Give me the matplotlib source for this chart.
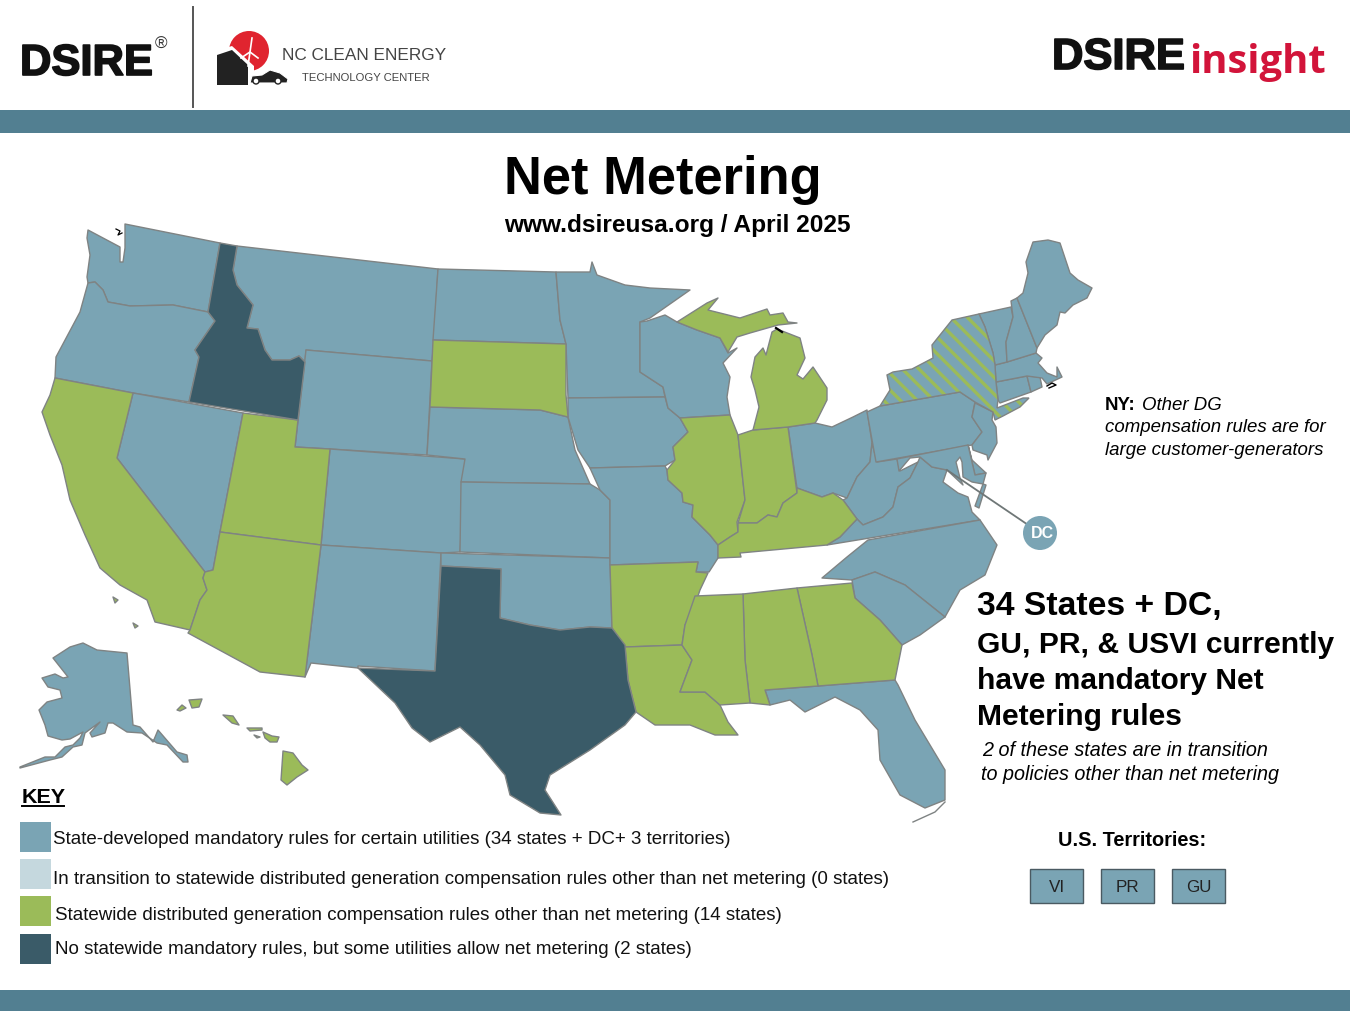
import matplotlib
matplotlib.use("Agg")
import matplotlib.pyplot as plt
import matplotlib.patheffects as pe
from matplotlib.patches import Polygon, Circle, Rectangle

plt.rcParams['font.family'] = ['Liberation Sans', 'DejaVu Sans']
plt.rcParams['hatch.linewidth'] = 2.4

# colours
BLUE = '#7AA4B4'
LIGHT = '#C5D8DE'
GREEN = '#9BBB59'
DARK = '#3A5B68'
BAR = '#527F91'
EDGE = '#7F8383'

# state outlines (pixel positions)
WA = [(88,230),(120,247),(120,262),(123,262),(125,248),(125,224),(220,243),(208,312),(173,305),(130,306),(108,302),(103,290),(95,282),(88,283),(87,277),(90,255),(87,238)]
OR = [(88,283),(95,282),(103,290),(108,302),(130,306),(173,305),(208,312),(215,321),(195,350),(199,357),(189,402),(133,393),(55,378),(56,357),(80,312)]
CA = [(55,378),(133,393),(117,458),(205,572),(203,578),(207,590),(200,600),(190,630),(155,622),(147,600),(120,585),(100,568),(85,535),(70,500),(62,465),(50,435),(42,412),(50,395)]
NV = [(133,393),(243,413),(220,532),(213,570),(205,572),(117,458)]
ID = [(220,243),(237,246),(233,270),(237,285),(253,305),(247,328),(258,329),(265,350),(272,360),(290,360),(299,356),(305,362),(298,420),(189,402),(199,357),(195,350),(215,321),(208,312)]
MT = [(237,246),(438,269),(434,340),(432,361),(306,350),(305,362),(299,356),(290,360),(272,360),(265,350),(258,329),(247,328),(253,305),(237,285),(233,270)]
WY = [(306,350),(432,361),(427,455),(330,449),(295,447)]
UT = [(243,413),(298,420),(295,447),(330,449),(321,545),(220,532)]
AZ = [(220,532),(321,545),(305,677),(260,672),(188,633),(190,630),(200,600),(207,590),(203,578),(205,572),(213,570)]
CO = [(330,449),(465,459),(460,552),(441,553),(321,545)]
NM = [(321,545),(441,553),(435,671),(358,666),(358,668),(311,663),(305,677)]
ND = [(438,269),(556,272),(560,320),(566,344),(433,340)]
SD = [(433,340),(566,344),(566,395),(568,417),(540,410),(430,407)]
NE = [(430,407),(540,410),(568,417),(575,450),(590,484),(461,482),(465,459),(427,455)]
KS = [(461,482),(590,484),(600,490),(610,500),(610,558),(460,552)]
OK = [(441,553),(610,558),(612,628),(590,627),(560,630),(530,625),(500,618),(501,569),(441,566)]
TX = [(441,566),(501,569),(500,618),(530,625),(560,630),(590,627),(612,628),(625,645),(628,680),(636,712),(625,725),(590,750),(550,775),(545,790),(561,815),(540,813),(510,795),(505,775),(480,745),(460,727),(430,742),(412,728),(395,703),(358,668),(435,671)]
MN = [(556,272),(590,272),(592,262),(597,275),(625,285),(650,288),(690,290),(650,318),(640,322),(640,372),(663,387),(665,397),(568,398),(566,344),(560,320)]
IA = [(568,398),(665,397),(668,408),(680,418),(688,432),(673,447),(675,460),(665,466),(590,468),(578,450),(568,417)]
MO = [(590,468),(665,466),(667,470),(668,480),(682,493),(683,502),(693,505),(692,517),(710,535),(718,545),(718,558),(709,572),(696,572),(698,562),(610,565),(610,500),(600,490)]
AR = [(610,565),(698,562),(696,572),(708,573),(700,590),(695,605),(685,625),(682,645),(625,647),(612,628)]
LA = [(625,647),(682,645),(692,660),(680,692),(705,692),(720,705),(728,722),(738,735),(715,735),(690,725),(655,725),(636,712),(628,680)]
WI = [(647,321),(665,315),(677,322),(697,330),(720,338),(728,353),(737,348),(723,363),(730,377),(727,397),(730,415),(680,418),(668,408),(663,387),(640,372),(640,322)]
IL = [(680,418),(730,415),(738,435),(745,500),(737,522),(738,532),(730,537),(718,545),(710,535),(692,517),(693,505),(683,502),(682,493),(668,480),(667,470),(675,460),(673,447),(688,432)]
IN = [(738,435),(753,430),(788,427),(797,493),(783,503),(777,517),(768,515),(757,523),(738,523),(745,500)]
MI_LOWER = [(753,430),(759,407),(755,390),(751,377),(755,357),(763,348),(766,355),(772,332),(777,329),(800,338),(805,358),(797,375),(803,379),(813,367),(827,388),(827,400),(817,420),(815,423),(788,427)]
MI_UPPER = [(677,322),(707,303),(718,298),(708,310),(740,318),(767,309),(770,315),(783,313),(788,322),(797,323),(778,325),(750,333),(737,337),(728,352),(720,338),(697,330)]
OH = [(788,427),(815,423),(832,427),(853,417),(867,410),(872,443),(870,462),(857,477),(847,498),(833,493),(822,497),(797,488)]
KY = [(797,488),(822,497),(833,493),(843,500),(857,519),(840,537),(827,545),(740,553),(741,557),(718,558),(718,545),(730,537),(738,532),(738,523),(757,523),(768,515),(777,517),(783,503),(797,493)]
WV = [(872,443),(877,462),(897,459),(900,471),(918,462),(910,478),(898,487),(893,507),(883,517),(863,525),(857,519),(843,500),(847,498),(857,477),(870,462)]
VA = [(827,545),(840,537),(857,519),(863,525),(883,517),(893,507),(898,487),(910,478),(918,462),(920,457),(932,467),(947,470),(943,482),(958,493),(968,497),(972,512),(980,520)]
VA_SHORE = [(983,484),(986,485),(979,508),(975,506)]
NC = [(868,540),(980,520),(997,545),(985,575),(960,590),(945,617),(905,585),(875,572),(852,580),(822,578),(847,557)]
SC = [(852,580),(875,572),(905,585),(945,617),(920,635),(902,645),(880,620),(855,598)]
GA = [(797,588),(852,583),(855,598),(880,620),(902,645),(895,680),(818,686),(812,655)]
AL = [(743,594),(797,588),(812,655),(818,686),(765,690),(770,705),(750,703),(745,660)]
MS = [(695,596),(743,594),(745,660),(750,703),(720,705),(705,692),(680,692),(692,660),(682,645),(685,625)]
FL = [(765,690),(818,686),(895,680),(898,685),(915,720),(945,770),(945,800),(925,808),(900,795),(880,760),(878,730),(860,710),(835,697),(805,712),(790,700),(770,705)]
PA = [(867,412),(880,406),(960,392),(975,402),(972,417),(982,432),(972,445),(876,462)]
NY = [(952,320),(979,314),(985,327),(993,353),(995,365),(996,382),(998,400),(997,408),(1023,398),(1029,398),(1020,407),(1003,416),(995,420),(993,412),(975,402),(960,392),(880,406),(890,390),(887,375),(893,372),(912,369),(933,358),(932,345)]
NJ = [(975,403),(993,412),(992,420),(996,427),(997,443),(988,460),(987,455),(973,450),(972,445),(982,432),(972,417)]
DE = [(968,445),(972,460),(986,473),(975,475)]
MD = [(897,459),(968,445),(975,475),(986,473),(983,484),(972,482),(963,477),(962,462),(960,457),(956,462),(960,478),(963,485),(947,470),(932,467),(920,457),(910,458),(899,471)]
CT = [(996,382),(1027,376),(1031,392),(1000,403),(998,400)]
RI = [(1027,376),(1040,377),(1042,387),(1031,392)]
MA = [(995,365),(1007,362),(1036,353),(1042,358),(1038,363),(1047,373),(1057,377),(1057,367),(1062,377),(1047,384),(1042,378),(1027,376),(996,382)]
VT = [(979,314),(1011,307),(1013,317),(1006,342),(1007,362),(995,365),(993,353),(985,327)]
NH = [(1011,301),(1017,298),(1037,348),(1036,353),(1007,362),(1006,342),(1013,317)]
ME = [(1033,242),(1048,240),(1060,243),(1070,273),(1078,280),(1092,288),(1087,298),(1073,305),(1065,313),(1060,312),(1057,325),(1045,335),(1037,348),(1017,298),(1023,293),(1028,273),(1026,262)]
AK = [(20,767),(45,757),(55,757),(65,747),(73,745),(80,738),(83,732),(70,739),(62,740),(48,736),(45,725),(39,710),(47,702),(62,698),(60,690),(48,687),(42,678),(55,674),(63,678),(68,677),(53,658),(70,647),(83,643),(97,650),(127,653),(133,725),(140,727),(153,742),(158,730),(177,752),(187,755),(188,762),(183,762),(167,745),(157,743),(142,733),(127,732),(113,723),(108,723),(105,733),(92,737),(90,733),(100,722),(85,733),(82,745),(73,747),(62,757),(50,760),(20,768)]
HI_BIG = [(283,751),(293,753),(302,765),(308,770),(297,777),(287,785),(281,780)]
HI_MAUI = [(263,732),(272,736),(279,737),(277,742),(270,742),(265,738)]
HI_LANAI = [(254,735),(260,737),(257,738)]
HI_MOLOKAI = [(247,728),(262,728),(262,730),(250,731)]
HI_OAHU = [(223,715),(233,716),(239,725),(232,723)]
HI_KAUAI = [(189,700),(202,699),(199,707),(192,708)]
HI_NIIHAU = [(177,710),(182,705),(186,708),(180,711)]
CA_ISLE_1 = [(113,597),(118,600),(115,603)]
CA_ISLE_2 = [(133,623),(138,626),(135,628)]

# policy groups (TN has no rule on the map and stays white)
RULES_STATES = [WA, OR, NV, MT, WY, CO, NM, ND, NE, KS, OK, MN, IA, MO, WI, OH, WV, VA, VA_SHORE, NC, SC, FL,
                PA, NJ, DE, MD, CT, RI, MA, VT, NH, ME, AK]
OTHER_COMP_STATES = [CA, CA_ISLE_1, CA_ISLE_2, UT, AZ, SD, AR, LA, IL, IN, MI_LOWER, MI_UPPER, KY, GA, AL, MS,
                     HI_BIG, HI_MAUI, HI_LANAI, HI_MOLOKAI, HI_OAHU, HI_KAUAI, HI_NIIHAU]
NO_RULE_STATES = [ID, TX]

LEGEND_LABELS = [
    "State-developed mandatory rules for certain utilities (34 states + DC+ 3 territories)",
    "In transition to statewide distributed generation compensation rules other than net metering (0 states)",
    "Statewide distributed generation compensation rules other than net metering (14 states)",
    "No statewide mandatory rules, but some utilities allow net metering (2 states)",
]
LEGEND_COLORS = [BLUE, LIGHT, GREEN, DARK]
TERRITORIES = ["VI", "PR", "GU"]
HEADLINE = ["34 States + DC,", "GU, PR, & USVI currently", "have mandatory Net", "Metering rules"]
TRANSITION_NOTE = ["2 of these states are in transition", "to policies other than net metering"]
NY_NOTE = ["compensation rules are for", "large customer-generators"]

# ----------------------------------------------------------------------------


def px(size):
    # font size given in pixels of the 100 dpi output
    return size * 0.72


def draw_dsire(ax, x, y):
    ax.text(x, y, "DSIRE", fontsize=px(43.5), weight='bold', color='#111111',
            path_effects=[pe.withStroke(linewidth=1.2, foreground='#111111')])


def draw_logos(ax):
    # header, left side
    draw_dsire(ax, 20, 75)
    ax.text(155, 49, "®", fontsize=px(17), color='#333333')
    ax.plot([193, 193], [7, 107], color='#555555', lw=1.4)

    ax.add_patch(Circle((249, 51), 20, fc='#E0242F', ec='none'))
    ax.add_patch(Polygon([(213, 52), (232, 46), (254, 66), (254, 90), (213, 90)], fc='white', ec='none'))
    ax.add_patch(Polygon([(217, 55), (232, 50), (248, 65), (248, 85), (217, 85)], fc='#222222', ec='none'))
    ax.plot([252, 250, 248], [38, 52, 66], color='white', lw=1.2)
    ax.plot([241, 250, 258], [58, 52, 58], color='white', lw=1.2)
    ax.add_patch(Polygon([(250, 83), (252, 76), (262, 75), (270, 70), (280, 73), (288, 79), (287, 83)], fc='#222222', ec='white', lw=0.8))
    ax.add_patch(Circle((256, 81), 3, fc='white', ec='#222222', lw=1))
    ax.add_patch(Circle((278, 81), 3, fc='white', ec='#222222', lw=1))
    ax.text(282, 60, "NC CLEAN ENERGY", fontsize=px(17.3), color='#444444')
    ax.text(302, 81, "TECHNOLOGY CENTER", fontsize=px(11.2), color='#444444')

    # header, right side
    draw_dsire(ax, 1052, 69)
    ax.text(1189, 73, "insight", fontsize=px(40), weight='bold', family=['Open Sans', 'Liberation Sans'], color='#D2143A')


def draw_map(ax):
    for outline in RULES_STATES:
        ax.add_patch(Polygon(outline, fc=BLUE, ec=EDGE, lw=1.0, joinstyle='round'))
    for outline in OTHER_COMP_STATES:
        ax.add_patch(Polygon(outline, fc=GREEN, ec=EDGE, lw=1.0, joinstyle='round'))
    for outline in NO_RULE_STATES:
        ax.add_patch(Polygon(outline, fc=DARK, ec=EDGE, lw=1.0, joinstyle='round'))

    # NY is striped: rules state with other compensation for large generators
    ax.add_patch(Polygon(NY, fc=BLUE, ec=GREEN, lw=0, hatch='\\\\'))
    ax.add_patch(Polygon(NY, fc='none', ec=EDGE, lw=1.0))

    # tiny black specks from the source shapefile, florida keys
    ax.plot([116, 120, 118, 122], [229, 231, 235, 233], color='black', lw=0.9)
    ax.plot([776, 782], [328, 332], color='black', lw=1.6)
    ax.plot([1047, 1052, 1056, 1049], [386, 383, 385, 388], color='black', lw=1.0)
    ax.plot([945, 935, 913], [802, 812, 822], color=EDGE, lw=1.0)

    # DC callout
    ax.plot([947, 1040], [470, 533], color='#6F7777', lw=1.3)
    ax.add_patch(Circle((1040, 533), 17, fc=BLUE, ec='none', zorder=3))
    ax.text(1042, 534, "DC", fontsize=px(16), weight='bold', color='white', ha='center', va='center', zorder=4)


def draw_legend(ax):
    ax.text(22, 803, "KEY", fontsize=px(21.5), weight='bold', color='black')
    ax.plot([22, 64], [806, 806], color='black', lw=1.4)
    swatch_top = [822, 859, 896, 934]
    label_y = [840, 880, 915, 950]
    label_x = [53, 53, 55, 55]
    for i in range(len(LEGEND_LABELS)):
        ax.add_patch(Rectangle((20, swatch_top[i]), 31, 30, fc=LEGEND_COLORS[i], ec='none'))
        ax.text(label_x[i], label_y[i], LEGEND_LABELS[i], fontsize=px(18.76), color='#111111', va='center')


def draw_notes(ax):
    ax.text(1105, 405, "NY:", fontsize=px(18.7), weight='bold', va='center')
    ax.text(1142, 405, "Other DG", fontsize=px(18.7), style='italic', va='center')
    for i, line in enumerate(NY_NOTE):
        ax.text(1105, 428 + i * 22.5, line, fontsize=px(18.7), style='italic', va='center')

    for i, line in enumerate(HEADLINE):
        size = 33.8 if i == 0 else 30
        ax.text(977, [607, 645, 681, 717][i], line, fontsize=px(size), weight='bold', va='center')
    ax.text(982, 751, TRANSITION_NOTE[0], fontsize=px(19.8), style='italic', va='center')
    ax.text(981, 775, TRANSITION_NOTE[1], fontsize=px(19.8), style='italic', va='center')

    ax.text(1132, 841, "U.S. Territories:", fontsize=px(20), weight='bold', ha='center', va='center')
    for i, name in enumerate(TERRITORIES):
        left = 1030 + i * 71
        ax.add_patch(Rectangle((left, 869), 53, 34, fc=BLUE, ec='#4A5A62', lw=1.0))
        ax.text(left + 26.5, 888, name, fontsize=px(17), color='#222222', ha='center', va='center')


def main():
    fig = plt.figure(figsize=(13.5, 10.11), dpi=100)
    ax = fig.add_axes([0, 0, 1, 1])
    ax.set_xlim(0, 1350)
    ax.set_ylim(1011, 0)
    ax.axis('off')

    ax.add_patch(Rectangle((0, 110), 1350, 23, fc=BAR, ec='none'))
    ax.add_patch(Rectangle((0, 990), 1350, 21, fc=BAR, ec='none'))
    draw_logos(ax)

    ax.text(504, 194, "Net Metering", fontsize=px(52.5), weight='bold', color='black')
    ax.text(504, 232, "www.dsireusa.org / April 2025", fontsize=px(24.5), weight='bold', color='black')

    draw_map(ax)
    draw_legend(ax)
    draw_notes(ax)

    fig.savefig("out.png", dpi=100)


if __name__ == "__main__":
    main()
